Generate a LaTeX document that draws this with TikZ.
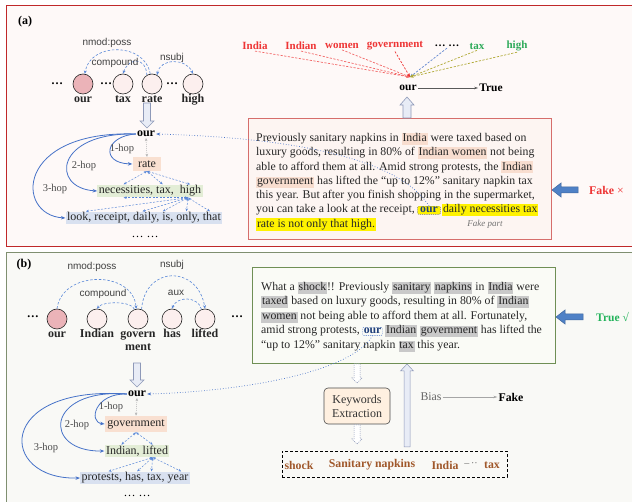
\documentclass[tikz,border=0pt]{standalone}
\usepackage{fontspec}
\setmainfont{Liberation Serif}
\newfontfamily\depfont{Liberation Sans}
\usetikzlibrary{calc,arrows.meta}
\definecolor{panelAfill}{HTML}{FEF9F8}
\definecolor{panelAdraw}{HTML}{C0282A}
\definecolor{panelBfill}{HTML}{F9F9F6}
\definecolor{panelBdraw}{HTML}{7F8F70}
\definecolor{boxAfill}{HTML}{FDF5F2}
\definecolor{boxAdraw}{HTML}{D66E6C}
\definecolor{boxBfill}{HTML}{FAFBF6}
\definecolor{boxBdraw}{HTML}{6F8F55}
\definecolor{ourfill}{HTML}{EBB3B8}
\definecolor{wordfill}{HTML}{FCEFEE}
\definecolor{deparc}{HTML}{5A88D8}
\definecolor{hopblue}{HTML}{4672C8}
\definecolor{peach}{HTML}{F9E0D1}
\definecolor{sage}{HTML}{E3EDD6}
\definecolor{lavender}{HTML}{D9E1F0}
\definecolor{hlpeach}{HTML}{F8DDCF}
\definecolor{hlgrey}{HTML}{C9C9C9}
\definecolor{kwred}{HTML}{EE3535}
\definecolor{kwgreen}{HTML}{2EAA5A}
\definecolor{truegreen}{HTML}{22B35A}
\definecolor{brown}{HTML}{A0582B}
\definecolor{arrowfill}{HTML}{E8ECF6}
\definecolor{arrowdraw}{HTML}{8E99B8}
\definecolor{bluearrow}{HTML}{4F81C6}
\definecolor{navy}{HTML}{1F3F7A}
\newcommand{\newsfont}{\fontsize{11.8}{14.3}\selectfont}
\tikzstyle{word}=[circle,draw=black!85,line width=0.6pt,minimum size=20pt,inner sep=0pt,fill=wordfill]
\tikzstyle{wordlabel}=[label distance=-1pt,inner sep=0.5pt,font=\fontsize{12}{13}\selectfont\bfseries,align=center,text=black!85]
\tikzstyle{dots}=[inner sep=0pt,font=\fontsize{12}{14}\selectfont\bfseries]
\tikzstyle{dep}=[draw=deparc,dash pattern=on 2.5pt off 1.8pt,line width=0.6pt,-{Stealth[length=3.5pt,width=3pt]}]
\tikzstyle{depboth}=[dep,{Stealth[length=3.5pt,width=3pt]}-{Stealth[length=3.5pt,width=3pt]}]
\tikzstyle{deplabel}=[font=\depfont\fontsize{10}{12}\selectfont,text=black!75,inner sep=0pt]
\tikzstyle{hop}=[draw=hopblue,line width=0.8pt,-{Stealth[length=4.5pt,width=3.5pt]}]
\tikzstyle{hoplabel}=[font=\fontsize{10.5}{12}\selectfont,text=black!70,inner sep=0pt]
\tikzstyle{fan}=[draw=deparc,dash pattern=on 2pt off 1.5pt,line width=0.5pt,{Stealth[length=3pt,width=2.5pt]}-{Stealth[length=3pt,width=2.5pt]}]
\tikzstyle{vlink}=[draw=black!30,dash pattern=on 1pt off 1pt,line width=0.5pt,{Stealth[length=3pt,width=2.5pt]}-{Stealth[length=3pt,width=2.5pt]}]
\tikzstyle{hopbox}=[inner xsep=1.5pt,inner ysep=1pt,font=\fontsize{12}{14}\selectfont,text=black!85]
\tikzstyle{linkline}=[draw=hopblue,dotted,line width=0.7pt,-{Stealth[length=4pt,width=3pt]}]
\tikzstyle{newsline}=[anchor=base west,inner sep=0pt,font=\newsfont,text=black!85]
\tikzstyle{ourbox}=[anchor=base west,draw,dash pattern=on 1.2pt off 1pt,rounded corners=1pt,font=\newsfont\bfseries,text=navy]
\tikzstyle{kwtop}=[inner sep=1pt,font=\fontsize{11}{13}\selectfont\bfseries]
\tikzstyle{conv}=[dash pattern=on 2.2pt off 1.5pt,line width=0.7pt,-{Stealth[length=3.5pt,width=3pt]}]
\tikzstyle{plainarrow}=[draw=black!65,line width=0.6pt,-{Stealth[length=4pt,width=2.5pt]}]
\tikzstyle{bold}=[inner sep=1pt,font=\fontsize{11.8}{14}\selectfont\bfseries]
\tikzstyle{hollowarrow}=[fill=arrowfill,draw=arrowdraw,line width=0.6pt]
\newcommand{\hilite}[2]{{\setlength{\fboxsep}{0.8pt}\colorbox{#1}{\rule[-2.6pt]{0pt}{9.4pt}#2}}}
\newcommand{\wordnode}[4][wordfill]{% [fill] {name} {position} {label}
  \node[word,fill=#1,label={[wordlabel]below:{\vphantom{h}#4}}] (#2) at (#3) {};
}
\newcommand{\blockarrow}[6][hollowarrow]{% [style] {tail} {tip} {shaft half width} {head half width} {head length}
  \coordinate (ba-tail) at (#2);
  \coordinate (ba-tip) at (#3);
  \coordinate (ba-base) at ($(ba-tip)!#6!(ba-tail)$);
  \draw[#1] ($(ba-tail)!#4!90:(ba-tip)$) -- ($(ba-base)!#4!-90:(ba-tail)$) -- ($(ba-base)!#5!-90:(ba-tail)$) -- (ba-tip)
    -- ($(ba-base)!#5!90:(ba-tail)$) -- ($(ba-base)!#4!90:(ba-tail)$) -- ($(ba-tail)!#4!-90:(ba-tip)$) -- cycle;
}
\begin{document}
\begin{tikzpicture}[x=1pt,y=1pt]
\useasboundingbox (0,0) rectangle (632,-502);
\clip (0,0) rectangle (632,-502);
\draw[fill=panelAfill,draw=panelAdraw,line width=0.9pt] (6,-5) rectangle (645,-246);
\draw[fill=panelBfill,draw=panelBdraw,line width=0.9pt] (6,-252) rectangle (645,-515);
\node[bold,font=\fontsize{12}{14}\selectfont\bfseries] (tagA) at (25,-22) {(a)};
\node[bold,font=\fontsize{12}{14}\selectfont\bfseries] (tagB) at (24,-265) {(b)};

%% panel (a): dependency words
\wordnode[ourfill]{ourC}{83,-84}{our}
\wordnode{taxC}{123,-84}{tax}
\wordnode{rateC}{152,-84}{rate}
\wordnode{highC}{193,-84}{high}
\node[dots] (dotsA1) at (57,-84) {…};
\node[dots] (dotsA2) at (106,-84) {…};
\node[dots] (dotsA3) at (172,-84) {…};
\draw[dep] (rateC.100) .. controls (145,-42) and (90,-42) .. (ourC.80);
\draw[dep] (rateC.120) .. controls (146,-57) and (129,-57) .. (taxC.north);
\draw[depboth] (rateC.60) .. controls (160,-58) and (186,-58) .. (highC.north);
\node[deplabel] (nmodA) at (107,-43) {nmod:poss};
\node[deplabel] (compA) at (115,-63) {compound};
\node[deplabel] (nsubjA) at (172,-58) {nsubj};
\blockarrow{147,-103}{147,-128}{3.5pt}{7pt}{7pt}

% hop tree
\node[bold,font=\fontsize{12}{14}\selectfont\bfseries] (ourA) at (146,-134) {our};
\node[hopbox,fill=peach,inner xsep=5.5pt,inner ysep=3.5pt] (rateA) at (147,-164) {rate};
\node[hopbox,fill=sage] (necA) at (150,-191) {necessities, tax,\ \ high};
\node[hopbox,fill=lavender] (lookA) at (144,-218) {look, receipt, daily, is, only, that};
\node[dots,font=\fontsize{12}{14}\selectfont] (moreA) at (145,-237) {… …};
\draw[hop] (ourA.west) .. controls (105,-136) and (100,-163) .. (rateA.west);
\draw[hop] (ourA.west) .. controls (55,-132) and (50,-188) .. (necA.west);
\draw[hop] (ourA.west) .. controls (15,-130) and (15,-215) .. (lookA.west);
\node[hoplabel] (hop1A) at (122,-149) {1-hop};
\node[hoplabel] (hop2A) at (84,-166) {2-hop};
\node[hoplabel] (hop3A) at (55,-189) {3-hop};
\draw[vlink] (ourA.south) -- (rateA.north);
\foreach \f in {0.25,0.62,0.88}
  \draw[fan] (rateA.south) -- ($(necA.north west)!\f!(necA.north east)$);
\coordinate (hiA) at ($(necA.south west)!0.86!(necA.south east)$);
\foreach \f in {0.13,0.49,0.62,0.77,0.92}
  \draw[fan] (hiA) -- ($(lookA.north west)!\f!(lookA.north east)$);
\draw[fan] (hiA) -- ($(necA.south west)!0.25!(necA.south east)$);

% news text (a)
\node[draw=boxAdraw,fill=boxAfill,line width=0.8pt,minimum width=303pt,minimum height=121pt] (boxA) at (399.5,-178.5) {};
\node[newsline] (la1) at (256,-141.5) {Previously sanitary napkins in \hilite{hlpeach}{India} were taxed based on};
\node[newsline] (la2) at (256,-155.8) {luxury goods, resulting in 80\% of \hilite{hlpeach}{Indian women} not being};
\node[newsline] (la3) at (256,-170.1) {able to afford them at all. Amid strong protests, the \hilite{hlpeach}{Indian}};
\node[newsline] (la4) at (256,-184.4) {\hilite{hlpeach}{government} has lifted the ``up to 12\%'' sanitary napkin tax};
\node[newsline] (la5) at (256,-198.7) {this year. But after you finish shopping in the supermarket,};
\node[newsline] (la6) at (256,-213) {you can take a look at the receipt,};
\node[ourbox,draw=black!55,fill=yellow,inner xsep=2.5pt,inner ysep=1.2pt] (ourBoxA) at ($(la6.base east)+(2.5,0)$) {our};
\node[newsline] (la6b) at ($(ourBoxA.base east)+(1.5,0)$) {\hilite{yellow}{daily necessities tax}};
\node[newsline] (la7) at (256,-227.3) {\hilite{yellow}{rate is not only that high.}};
\node[inner sep=0pt,font=\fontsize{9}{11}\selectfont\itshape,text=black!55] (fakePart) at (485,-224) {Fake part};
\draw[linkline] (ourBoxA.north) .. controls (400,-160) and (300,-138) .. (ourA.east);

% keywords (a)
\node[kwtop,text=kwred] (kwIndia) at (255,-46) {India};
\node[kwtop,text=kwred] (kwIndian) at (301,-46) {Indian};
\node[kwtop,text=kwred] (kwWomen) at (342,-46) {women};
\node[kwtop,text=kwred] (kwGov) at (395,-46) {government};
\node[kwtop] (kwDots) at (447,-46) {… …};
\node[kwtop,text=kwgreen] (kwTax) at (477,-46) {tax};
\node[kwtop,text=kwgreen] (kwHigh) at (517,-46) {high};
\coordinate (hubA) at (410,-77);
\foreach \k/\c in {kwIndia/kwred!75,kwIndian/kwred!75,kwWomen/kwred!75,kwGov/kwred,kwDots/hopblue!85,kwTax/olive!70,kwHigh/olive!70}
  \draw[conv,draw=\c] (\k.south) -- (hubA);
\node[bold,font=\fontsize{11.5}{14}\selectfont\bfseries] (ourTop) at (408,-88) {our};
\node[bold,font=\fontsize{11.5}{14}\selectfont\bfseries] (trueA) at (491,-88) {True};
\draw[plainarrow] (ourTop) -- (trueA);
\blockarrow{407,-118}{407,-97}{4pt}{7pt}{8pt}
\blockarrow[fill=bluearrow,draw=bluearrow!80!black,line width=0.5pt]{578,-190}{552,-190}{3pt}{7pt}{9pt}
\node[anchor=west,inner sep=0pt,font=\fontsize{11.8}{14}\selectfont,text=kwred] (fakeA) at (589,-190) {\textbf{Fake} ×};

%% panel (b): dependency words
\wordnode[ourfill]{ourB}{57,-319}{our}
\wordnode{indianB}{97,-319}{Indian}
\wordnode{govB}{138,-319}{govern\\ment}
\wordnode{hasB}{172,-319}{has}
\wordnode{liftedB}{205,-319}{lifted}
\node[dots] (dotsB1) at (33,-317) {…};
\node[dots] (dotsB2) at (237,-317) {…};
\draw[dep] (ourB.north) .. controls (62,-270) and (133,-270) .. (govB.100);
\draw[dep] (govB.110) .. controls (132,-301) and (103,-301) .. (indianB.north);
\draw[dep] (govB.70) .. controls (145,-265) and (198,-265) .. (liftedB.north);
\draw[dep] (liftedB.110) .. controls (198,-296) and (177,-296) .. (hasB.north);
\node[deplabel] (nmodB) at (92,-267) {nmod:poss};
\node[deplabel] (compB) at (103,-294) {compound};
\node[deplabel] (nsubjB) at (172,-265) {nsubj};
\node[deplabel] (auxB) at (176,-293) {aux};
\blockarrow{137,-363}{137,-387}{3.5pt}{7pt}{7pt}

% hop tree
\node[bold,font=\fontsize{12}{14}\selectfont\bfseries] (ourB2) at (137,-394) {our};
\node[hopbox,fill=peach,inner xsep=2.5pt,inner ysep=3.5pt] (govBox) at (136,-424) {government};
\node[hopbox,fill=sage] (indBox) at (137,-451) {Indian, lifted};
\node[hopbox,fill=lavender] (proBox) at (135,-478) {protests, has, tax, year};
\node[dots,font=\fontsize{12}{14}\selectfont] (moreB) at (137,-496) {… …};
\draw[hop] (ourB2.west) .. controls (95,-393) and (88,-422) .. (govBox.west);
\draw[hop] (ourB2.west) .. controls (45,-388) and (42,-452) .. (indBox.west);
\draw[hop] (ourB2.west) .. controls (-5,-385) and (-2,-480) .. (proBox.west);
\node[hoplabel] (hop1B) at (111,-407) {1-hop};
\node[hoplabel] (hop2B) at (77,-425) {2-hop};
\node[hoplabel] (hop3B) at (46,-448) {3-hop};
\draw[vlink] (ourB2.south) -- (govBox.north);
\foreach \f in {0.26,0.74}
  \draw[fan] (govBox.south) -- ($(indBox.north west)!\f!(indBox.north east)$);
\coordinate (liftB) at ($(indBox.south west)!0.74!(indBox.south east)$);
\foreach \f in {0.26,0.52,0.65,0.92}
  \draw[fan] (liftB) -- ($(proBox.north west)!\f!(proBox.north east)$);

% news text (b)
\node[draw=boxBdraw,fill=boxBfill,line width=0.8pt,minimum width=303pt,minimum height=96pt] (boxB) at (403.5,-315) {};
\node[newsline] (lb1) at (261,-290.5) {What a \hilite{hlgrey}{shock}!! Previously \hilite{hlgrey}{sanitary} \hilite{hlgrey}{napkins} in \hilite{hlgrey}{India} were};
\node[newsline] (lb2) at (261,-305) {\hilite{hlgrey}{taxed} based on luxury goods, resulting in 80\% of \hilite{hlgrey}{Indian}};
\node[newsline] (lb3) at (261,-319.5) {\hilite{hlgrey}{women} not being able to afford them at all. Fortunately,};
\node[newsline] (lb4) at (261,-334) {amid strong protests,};
\node[ourbox,draw=hopblue,inner xsep=1pt,inner ysep=1.2pt] (ourBoxB) at ($(lb4.base east)+(2.5,0)$) {our};
\node[newsline] (lb4b) at ($(ourBoxB.base east)+(2.5,0)$) {\hilite{hlgrey}{Indian} \hilite{hlgrey}{government} has lifted the};
\node[newsline] (lb5) at (261,-348.5) {``up to 12\%'' sanitary napkin \hilite{hlgrey}{tax} this year.};
\draw[linkline] (ourBoxB.south) .. controls (350,-375) and (230,-392) .. (ourB2.east);
\blockarrow[fill=bluearrow,draw=bluearrow!80!black,line width=0.5pt]{583,-317}{556,-317}{3pt}{7pt}{9pt}
\node[anchor=west,inner sep=0pt,font=\fontsize{11.5}{14}\selectfont,text=truegreen] (trueB) at (596,-317) {\textbf{True} √};

% keywords extraction (b)
\node[draw=black!70,fill=orange!12,rounded corners=4pt,line width=0.6pt,minimum width=66pt,minimum height=36pt,align=center,inner sep=1pt,font=\fontsize{12}{14}\selectfont,text=black!80] (kwBox) at (357,-406) {Keywords\\Extraction};
\blockarrow[draw=arrowdraw,fill=white,dash pattern=on 1pt off 1pt,line width=0.5pt]{357,-364}{357,-383}{3pt}{5pt}{5pt}
\blockarrow[draw=arrowdraw,fill=white,dash pattern=on 1pt off 1pt,line width=0.5pt]{357,-425}{357,-444}{3pt}{5pt}{5pt}
\node[draw=black,dash pattern=on 3pt off 2pt,line width=0.8pt,minimum width=225pt,minimum height=26pt] (kwFrame) at (394.5,-464) {};
\node[bold,text=brown] (kwShock) at (299,-465) {shock};
\node[bold,text=brown] (kwSan) at (372,-465) {Sanitary napkins};
\node[bold,text=brown] (kwIndiaB) at (445,-465) {India};
\node[inner sep=0pt,font=\fontsize{10}{12}\selectfont,text=black!60] (kwMore) at (471,-465) {–\,··};
\node[bold,text=brown] (kwTaxB) at (492,-465) {tax};
\blockarrow[hollowarrow,line width=0.5pt]{407,-447}{407,-364}{3pt}{6.5pt}{7pt}
\node[inner sep=1pt,font=\fontsize{11.8}{14}\selectfont,text=black!60] (biasB) at (431,-397) {Bias};
\node[bold] (fakeB) at (511,-397) {Fake};
\draw[plainarrow,draw=black!35] (biasB) -- (fakeB);
\end{tikzpicture}
\end{document}
